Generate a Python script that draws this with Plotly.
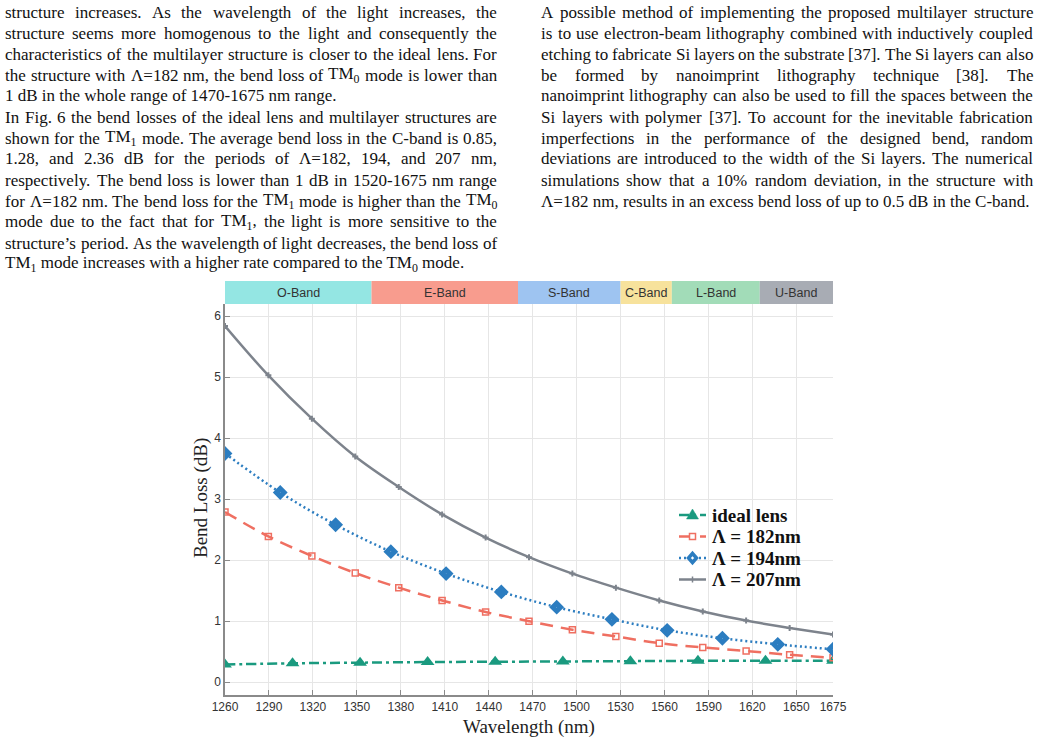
import re
import plotly.graph_objects as go

# ---------------- data ----------------
wl_15 = [1260, 1289.6, 1319.3, 1348.9, 1378.6, 1408.2, 1437.9, 1467.5,
         1497.1, 1526.8, 1556.4, 1586.1, 1615.7, 1645.4, 1675]
loss_207 = [5.84, 5.03, 4.32, 3.70, 3.20, 2.75, 2.37, 2.05, 1.78, 1.55,
            1.34, 1.16, 1.01, 0.89, 0.78]
loss_182 = [2.79, 2.39, 2.07, 1.79, 1.55, 1.34, 1.15, 1.00, 0.86, 0.75,
            0.64, 0.57, 0.51, 0.45, 0.40]
wl_12 = [1260, 1297.7, 1335.5, 1373.2, 1410.9, 1448.6, 1486.4, 1524.1,
         1561.8, 1599.5, 1637.3, 1675]
loss_194 = [3.75, 3.11, 2.58, 2.14, 1.78, 1.48, 1.23, 1.03, 0.85, 0.72,
            0.62, 0.54]
wl_10 = [1260, 1306.1, 1352.2, 1398.3, 1444.4, 1490.6, 1536.7, 1582.8,
         1628.9, 1675]
loss_ideal = [0.29, 0.31, 0.32, 0.33, 0.335, 0.34, 0.345, 0.35, 0.35, 0.35]

band_names = ["O-Band", "E-Band", "S-Band", "C-Band", "L-Band", "U-Band"]
band_start = [1260, 1360, 1460, 1530, 1565, 1625]
band_end = [1360, 1460, 1530, 1565, 1625, 1675]
band_colors = ["#94e6e3", "#f89c8e", "#9ec4f1", "#f7e29c", "#a2dcb8", "#a8acb4"]

x_ticks = [1260, 1290, 1320, 1350, 1380, 1410, 1440, 1470, 1500, 1530,
           1560, 1590, 1620, 1650, 1675]
y_ticks = [0, 1, 2, 3, 4, 5, 6]

legend_names = ["ideal lens", "Λ = 182nm", "Λ = 194nm", "Λ = 207nm"]
series_colors = ["#1a9a7f", "#ef6f61", "#2c7dc0", "#7d838c"]
series_dash = ["10px,4px,3px,4px", "13px,8px", "2px,3px", "solid"]

left_lines = [
    "structure increases. As the wavelength of the light increases, the",
    "structure seems more homogenous to the light and consequently the",
    "characteristics of the multilayer structure is closer to the ideal lens. For",
    "the structure with Λ=182 nm, the bend loss of TM<sub>0</sub> mode is lower than",
    "1 dB in the whole range of 1470-1675 nm range.",
    "In Fig. 6 the bend losses of the ideal lens and multilayer structures are",
    "shown for the TM<sub>1</sub> mode. The average bend loss in the C-band is 0.85,",
    "1.28, and 2.36 dB for the periods of Λ=182, 194, and 207 nm,",
    "respectively. The bend loss is lower than 1 dB in 1520-1675 nm range",
    "for Λ=182 nm. The bend loss for the TM<sub>1</sub> mode is higher than the TM<sub>0</sub>",
    "mode due to the fact that for TM<sub>1</sub>, the light is more sensitive to the",
    "structure’s period. As the wavelength of light decreases, the bend loss of",
    "TM<sub>1</sub> mode increases with a higher rate compared to the TM<sub>0</sub> mode.",
]
left_justify = [1, 1, 1, 1, 0, 1, 1, 1, 1, 1, 1, 1, 0]

right_lines = [
    "A possible method of implementing the proposed multilayer structure",
    "is to use electron-beam lithography combined with inductively coupled",
    "etching to fabricate Si layers on the substrate [37]. The Si layers can also",
    "be formed by nanoimprint lithography technique [38]. The",
    "nanoimprint lithography can also be used to fill the spaces between the",
    "Si layers with polymer [37]. To account for the inevitable fabrication",
    "imperfections in the performance of the designed bend, random",
    "deviations are introduced to the width of the Si layers. The numerical",
    "simulations show that a 10% random deviation, in the structure with",
    "Λ=182 nm, results in an excess bend loss of up to 0.5 dB in the C-band.",
]
right_justify = [1, 1, 1, 1, 1, 1, 1, 1, 1, 0]

# ---------------- geometry ----------------
W, H = 1038, 745
PL, PR, PT, PB = 225, 833, 304, 695   # plot area in page pixels


def px(x):
    return (x - PL) / (PR - PL)


def py(y):
    return (PB - y) / (PB - PT)


# Times / Liberation Serif advance widths (per 1000 em)
TW = {' ': 250, 'a': 444, 'b': 500, 'c': 444, 'd': 500, 'e': 444, 'f': 333,
      'g': 500, 'h': 500, 'i': 278, 'j': 278, 'k': 500, 'l': 278, 'm': 778,
      'n': 500, 'o': 500, 'p': 500, 'q': 500, 'r': 333, 's': 389, 't': 278,
      'u': 500, 'v': 500, 'w': 722, 'x': 500, 'y': 500, 'z': 444,
      'A': 722, 'B': 667, 'C': 667, 'D': 722, 'E': 611, 'F': 556, 'G': 722,
      'H': 722, 'I': 333, 'J': 389, 'K': 722, 'L': 611, 'M': 889, 'N': 722,
      'O': 722, 'P': 556, 'Q': 722, 'R': 667, 'S': 556, 'T': 611, 'U': 722,
      'V': 722, 'W': 944, 'X': 722, 'Y': 722, 'Z': 611, 'Λ': 722,
      '.': 250, ',': 250, '-': 333, '[': 333, ']': 333, '%': 833, '=': 564,
      '’': 333, "'": 180, '(': 333, ')': 333}


def word_width(word, size):
    total = 0.0
    for part in re.split(r'(<sub>.*?</sub>)', word):
        if part.startswith('<sub>'):
            inner = part[5:-6]
            total += 0.7 * sum(TW.get(c, 500) for c in inner)
        else:
            total += sum(TW.get(c, 500) for c in part)
    return total * size / 1000.0


TEXT_SIZE = 17
TEXT_FONT = dict(family="Liberation Serif", size=TEXT_SIZE, color="#111111")
annotations = []


def place_lines(lines, justify, x0, x1, y0, pitch):
    for i, (line, jus) in enumerate(zip(lines, justify)):
        yc = y0 + i * pitch
        if not jus:
            annotations.append(dict(text=line, x=px(x0), y=py(yc), xref="paper",
                                    yref="paper", xanchor="left", yanchor="middle",
                                    showarrow=False, font=TEXT_FONT,
                                    borderpad=0, borderwidth=0))
            continue
        words = line.split(' ')
        widths = [word_width(w, TEXT_SIZE) for w in words]
        gap = (x1 - x0 - sum(widths)) / (len(words) - 1)
        x = x0
        for w, wd in zip(words, widths):
            annotations.append(dict(text=w, x=px(x), y=py(yc), xref="paper",
                                    yref="paper", xanchor="left", yanchor="middle",
                                    showarrow=False, font=TEXT_FONT,
                                    borderpad=0, borderwidth=0))
            x += wd + gap


place_lines(left_lines, left_justify, 5, 497, 12, 21)
place_lines(right_lines, right_justify, 541, 1033, 12, 21)

# ---------------- traces ----------------
fig = go.Figure()
fig.add_trace(go.Scatter(
    x=wl_10, y=loss_ideal, name=legend_names[0], mode="lines+markers",
    line=dict(color=series_colors[0], width=2.5, dash=series_dash[0], shape="spline"),
    marker=dict(symbol="triangle-up", size=12, color=series_colors[0])))
fig.add_trace(go.Scatter(
    x=wl_15, y=loss_182, name=legend_names[1], mode="lines+markers",
    line=dict(color=series_colors[1], width=2.5, dash=series_dash[1], shape="spline"),
    marker=dict(symbol="square-open", size=6, color=series_colors[1],
                line=dict(width=1.5, color=series_colors[1]))))
fig.add_trace(go.Scatter(
    x=wl_12, y=loss_194, name=legend_names[2], mode="lines+markers",
    line=dict(color=series_colors[2], width=2.5, dash=series_dash[2], shape="spline"),
    marker=dict(symbol="diamond-open", size=6, color=series_colors[2],
                line=dict(width=5, color=series_colors[2]))))
fig.add_trace(go.Scatter(
    x=wl_15, y=loss_207, name=legend_names[3], mode="lines+markers",
    line=dict(color=series_colors[3], width=2.5, shape="spline"),
    marker=dict(symbol="cross", size=5, color=series_colors[3])))

# ---------------- bands ----------------
shapes = []
bar_h = 23 / (PB - PT)
for nm, s, e, c in zip(band_names, band_start, band_end, band_colors):
    shapes.append(dict(type="rect", xref="x", yref="paper", x0=s, x1=e,
                       y0=1.0, y1=1.0 + bar_h, fillcolor=c, line=dict(width=0),
                       layer="above"))
    annotations.append(dict(text=nm, x=(s + e) / 2, y=1.0 + bar_h / 2, xref="x",
                            yref="paper", showarrow=False, xanchor="center",
                            yanchor="middle",
                            font=dict(family="Liberation Sans", size=12.5,
                                      color="#333333")))

# ---------------- legend (drawn as text + symbols) ----------------
leg_rows = [515, 536.5, 558, 579.5]
lx0, lx1, lxm, ltext = 679, 706, 692.5, 711


def poly(points):
    return "M " + " L ".join(f"{px(a):.5f},{py(b):.5f}" for a, b in points) + " Z"


for i, (name, col, dsh) in enumerate(zip(legend_names, series_colors, series_dash)):
    yc = leg_rows[i]
    shapes.append(dict(type="line", xref="paper", yref="paper",
                       x0=px(lx0), x1=px(lx1), y0=py(yc), y1=py(yc),
                       line=dict(color=col, width=2.5, dash=dsh), layer="above"))
    annotations.append(dict(text=f"<b>{name}</b>", x=px(ltext), y=py(yc), xref="paper",
                            yref="paper", xanchor="left", yanchor="middle",
                            showarrow=False, borderpad=0,
                            font=dict(family="Liberation Serif", size=19, color="#111")))
    if i == 0:
        shapes.append(dict(type="path", xref="paper", yref="paper", layer="above",
                           path=poly([(lxm, yc - 6), (lxm - 6, yc + 4), (lxm + 6, yc + 4)]),
                           fillcolor=col, line=dict(color=col, width=0.5)))
    elif i == 1:
        shapes.append(dict(type="path", xref="paper", yref="paper", layer="above",
                           path=poly([(lxm - 3, yc - 3), (lxm + 3, yc - 3),
                                      (lxm + 3, yc + 3), (lxm - 3, yc + 3)]),
                           fillcolor="white", line=dict(color=col, width=1.5)))
    elif i == 2:
        shapes.append(dict(type="path", xref="paper", yref="paper", layer="above",
                           path=poly([(lxm, yc - 4.5), (lxm + 4, yc), (lxm, yc + 4.5),
                                      (lxm - 4, yc)]),
                           fillcolor="white", line=dict(color=col, width=3.5)))
    else:
        shapes.append(dict(type="line", xref="paper", yref="paper", layer="above",
                           x0=px(lxm), x1=px(lxm), y0=py(yc - 3), y1=py(yc + 3),
                           line=dict(color=col, width=1.5)))

# axis titles
annotations.append(dict(text="Wavelength (nm)", x=px(529), y=py(727), xref="paper",
                        yref="paper", showarrow=False, xanchor="center",
                        yanchor="middle",
                        font=dict(family="Liberation Serif", size=19, color="#222")))
annotations.append(dict(text="Bend Loss (dB)", x=px(201), y=py(498), xref="paper",
                        yref="paper", showarrow=False, xanchor="center",
                        yanchor="middle", textangle=-90,
                        font=dict(family="Liberation Serif", size=19, color="#222")))

axis_common = dict(showgrid=True, gridcolor="#e6e6e6", gridwidth=1,
                   showline=True, linecolor="#8a8a8a", linewidth=1.5,
                   ticks="inside", ticklen=5, tickcolor="#8a8a8a", tickwidth=1,
                   zeroline=False, mirror=False,
                   tickfont=dict(family="Liberation Sans", size=12, color="#333333"))

fig.update_layout(
    width=W, height=H, autosize=False,
    margin=dict(l=PL, r=W - PR, t=PT, b=H - PB, pad=0),
    paper_bgcolor="white", plot_bgcolor="white",
    xaxis=dict(range=[1260, 1675], tickvals=x_ticks,
               ticktext=[str(t) for t in x_ticks], **axis_common),
    yaxis=dict(range=[-0.21, 6.2], tickvals=y_ticks,
               ticktext=[str(t) for t in y_ticks], **axis_common),
    showlegend=False,
    shapes=shapes, annotations=annotations,
)

fig.write_html("out.html")
